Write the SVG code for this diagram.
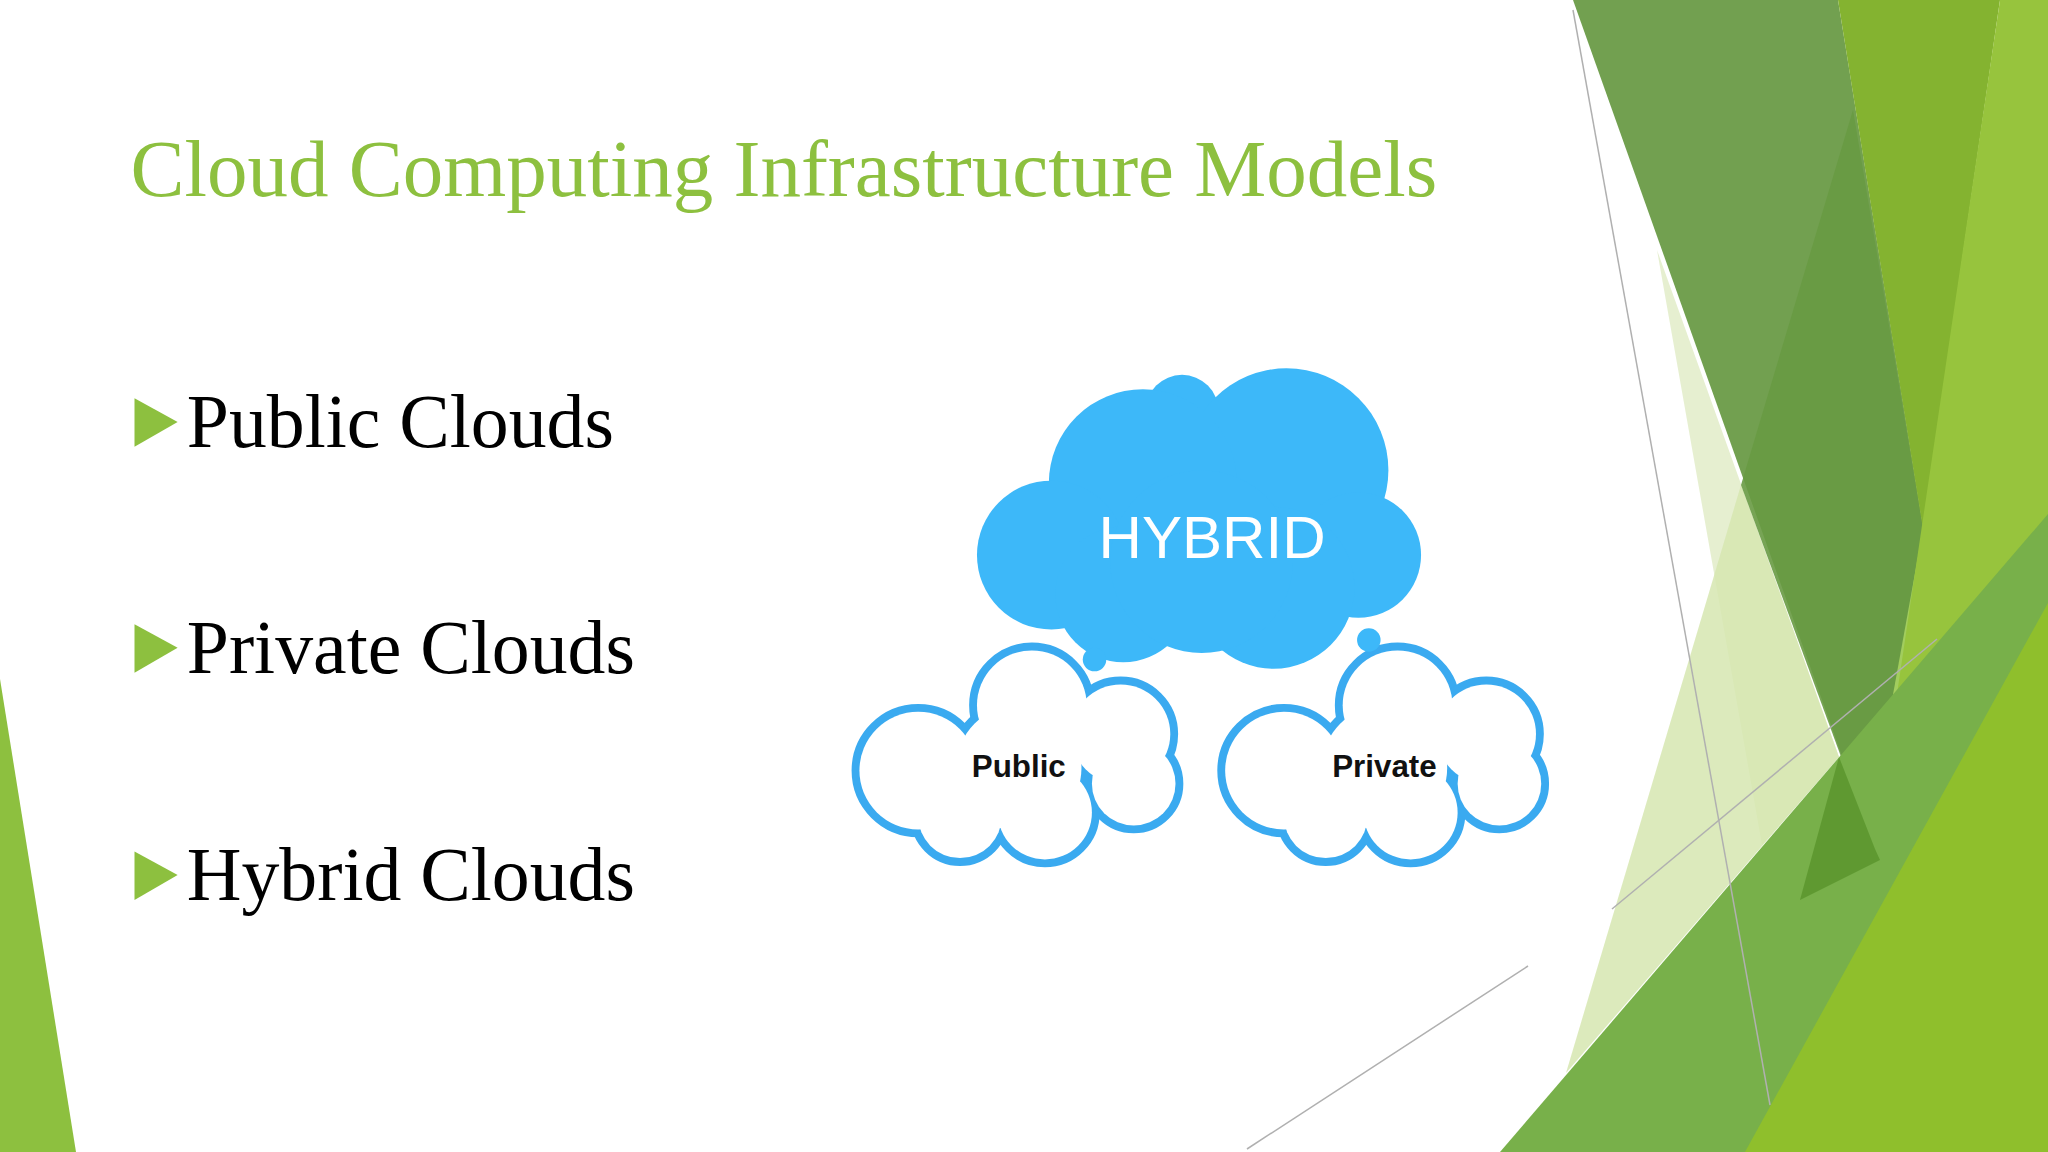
<svg xmlns="http://www.w3.org/2000/svg" width="2048" height="1152" viewBox="0 0 2048 1152">
<style>
.b{font-family:"Liberation Serif",serif;font-size:58px;fill:#000}
.lbl{font-family:"Liberation Sans",Arial,sans-serif;font-weight:bold;font-size:24px;fill:#111;text-anchor:middle}
.o circle{fill:none;stroke:#3aaaf0;stroke-width:12}
.i circle{fill:#fff}
.h circle{fill:#3db8f9}
.bul{fill:#8dc03f}
.gl{stroke:#b0b0b0;stroke-width:1.5;fill:none}
</style>
<rect width="2048" height="1152" fill="#fff"/>
<g id="background">
<polygon points="0,679 0,1152 76,1152" fill="#8dc03f"/>
<polygon points="1657,250 1839,757 1762,845" fill="#e6efd0"/>
<polygon points="1741,485 1839,757 1566,1073" fill="#d6e6b0" opacity="0.85"/>
<polygon points="1573,0 1838,0 1935,600 1875,849" fill="#72a050"/>
<polygon points="1853,110 1923,529 1875,849 1741,485" fill="#689a42" opacity="0.9"/>
<polygon points="1838,0 2000,0 1923,529" fill="#84b330"/>
<polygon points="1923,529 1960,757 1888,889 1865,849" fill="#a2cd5e"/>
<polygon points="2000,0 2048,0 2048,1152 1829,1152" fill="#97c43d"/>
<polygon points="1500,1152 2048,514 2048,1152" fill="#78b04a"/>
<polygon points="1839,757 1875,849 1880,860 1800,900" fill="#4e8a22" opacity="0.6"/>
<polygon points="1745,1152 2048,603 2048,1152" fill="#8fbf2c"/>
<line class="gl" x1="1573" y1="10" x2="1770" y2="1105"/>
<line class="gl" x1="1612" y1="909" x2="1937" y2="639"/>
<line class="gl" x1="1247" y1="1149" x2="1528" y2="966"/>
</g>
<g transform="scale(1.30612)">
<g id="title"><text x="100" y="150" font-family="Liberation Serif,serif" font-size="62" fill="#8dc03f">Cloud Computing Infrastructure Models</text></g>
<g id="bullet-public"><polygon class="bul" points="103,305 136,323 103,342"/><text class="b" x="143" y="342">Public Clouds</text></g>
<g id="bullet-private"><polygon class="bul" points="103,478 136,496 103,515"/><text class="b" x="143" y="515">Private Clouds</text></g>
<g id="bullet-hybrid"><polygon class="bul" points="103,652 136,670 103,689"/><text class="b" x="143" y="689">Hybrid Clouds</text></g>
<g id="public">
<g class="o"><circle cx="790" cy="540" r="42"/><circle cx="703" cy="590" r="45"/><circle cx="735" cy="625" r="32"/><circle cx="800" cy="622" r="36"/><circle cx="858" cy="562" r="38"/><circle cx="868" cy="600" r="32"/><circle cx="780" cy="588" r="48"/></g>
<g class="i"><circle cx="790" cy="540" r="42"/><circle cx="703" cy="590" r="45"/><circle cx="735" cy="625" r="32"/><circle cx="800" cy="622" r="36"/><circle cx="858" cy="562" r="38"/><circle cx="868" cy="600" r="32"/><circle cx="780" cy="588" r="48"/></g>
<text class="lbl" x="780" y="595">Public</text>
</g>
<g id="private" transform="translate(280,0)">
<g class="o"><circle cx="790" cy="540" r="42"/><circle cx="703" cy="590" r="45"/><circle cx="735" cy="625" r="32"/><circle cx="800" cy="622" r="36"/><circle cx="858" cy="562" r="38"/><circle cx="868" cy="600" r="32"/><circle cx="780" cy="588" r="48"/></g>
<g class="i"><circle cx="790" cy="540" r="42"/><circle cx="703" cy="590" r="45"/><circle cx="735" cy="625" r="32"/><circle cx="800" cy="622" r="36"/><circle cx="858" cy="562" r="38"/><circle cx="868" cy="600" r="32"/><circle cx="780" cy="588" r="48"/></g>
<text class="lbl" x="780" y="595">Private</text>
</g>
<g id="hybrid">
<g class="h"><circle cx="905" cy="315" r="28"/><circle cx="985" cy="360" r="78"/><circle cx="875" cy="370" r="72"/><circle cx="805" cy="425" r="57"/><circle cx="1040" cy="425" r="48"/><circle cx="860" cy="455" r="52"/><circle cx="975" cy="450" r="62"/><circle cx="920" cy="430" r="70"/><circle cx="838" cy="505" r="9"/><circle cx="1048" cy="490" r="9"/></g>
<text x="928" y="427" font-family="Liberation Sans,Arial,sans-serif" font-size="46" fill="#fff" text-anchor="middle">HYBRID</text>
</g>
</g>
</svg>
